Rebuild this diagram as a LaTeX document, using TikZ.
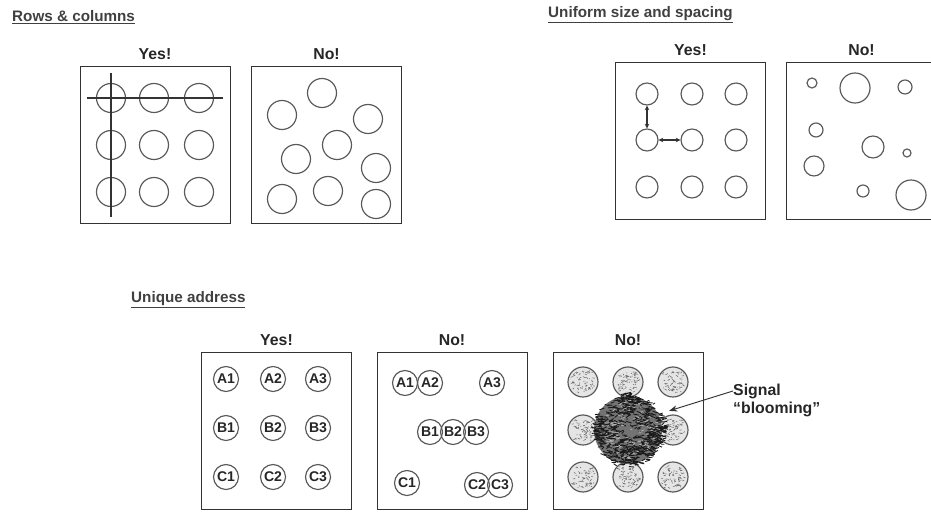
\documentclass[tikz,border=0pt]{standalone}
\usepackage{fontspec}
\setmainfont{Liberation Sans}
\usetikzlibrary{positioning, arrows.meta, calc}

\begin{document}
\begin{tikzpicture}[
    x=0.03cm, y=-0.03cm,
    panel/.style={draw=black!80, line width=0.8pt, rectangle, minimum width=150*0.03cm, minimum height=157*0.03cm, inner sep=0pt},
    head/.style={font=\fontsize{13.5}{15}\selectfont\bfseries, text=black!85, inner sep=1pt},
    title/.style={font=\fontsize{13}{15}\selectfont\bfseries, text=black!75, anchor=west, inner sep=0pt},
    spot/.style={draw=black!65, line width=1pt, circle, minimum size=#1*0.03cm, inner sep=0pt},
    cell/.style={spot=25, font=\fontsize{12}{14}\selectfont\bfseries, text=black!85},
    speck/.style={spot=30, fill=black!10},
    arrow/.style={-{Stealth[length=2.5mm]}, line width=0.8pt, black!80},
    tinyarrow/.style={{Stealth[length=1.4mm, width=1.4mm]}-{Stealth[length=1.4mm, width=1.4mm]}, line width=1pt, black!80},
]
\useasboundingbox (0,0) rectangle (931,515);

% Rows & columns
\node[title] (trc) at (12,17) {\underline{Rows \& columns}};
\node[panel] (rcyes) at (155,145) {};
\node[head, above=4pt of rcyes] (hrcyes) {Yes!};
\node[panel] (rcno) at (326.5,145) {};
\node[head, above=4pt of rcno] (hrcno) {No!};

\foreach \r/\y in {1/98,2/145,3/192}
  \foreach \c/\x in {1/111,2/154,3/199}
    \node[spot=29] (rc\r\c) at (\x,\y) {};
\draw[line width=0.9pt, black!80] ($(rc11.west)+(-9,0)$) -- ($(rc13.east)+(9,0)$);
\draw[line width=0.9pt, black!80] ($(rc11.north)+(0,-10)$) -- ($(rc31.south)+(0,10)$);

\node[spot=29] (rn1) at (322,93) {};
\node[spot=29] (rn2) at (282,115) {};
\node[spot=29] (rn3) at (368,119) {};
\node[spot=29] (rn4) at (337,145) {};
\node[spot=29] (rn5) at (296,159) {};
\node[spot=29] (rn6) at (376,168) {};
\node[spot=29] (rn7) at (282,199) {};
\node[spot=29] (rn8) at (328,191) {};
\node[spot=29] (rn9) at (376,204) {};

% Uniform size and spacing
\node[title] (tus) at (548,15) {\underline{Uniform size and spacing}};
\node[panel] (usyes) at (690.5,141) {};
\node[head, above=4pt of usyes] (husyes) {Yes!};
\node[panel] (usno) at (861.5,141) {};
\node[head, above=4pt of usno] (husno) {No!};

\foreach \r/\y in {1/94,2/140,3/187}
  \foreach \c/\x in {1/647,2/692,3/736}
    \node[spot=22] (us\r\c) at (\x,\y) {};
\draw[tinyarrow] (us11) -- (us21);
\draw[tinyarrow] (us21) -- (us22);

\node[spot=10] (un1) at (812,83) {};
\node[spot=30] (un2) at (855,88) {};
\node[spot=14] (un3) at (905,87) {};
\node[spot=14] (un4) at (816,130) {};
\node[spot=22] (un5) at (873,147) {};
\node[spot=8]  (un6) at (907,153) {};
\node[spot=20] (un7) at (814,166) {};
\node[spot=12] (un8) at (863,191) {};
\node[spot=30] (un9) at (911,195) {};

% Unique address
\node[title] (tua) at (131,300) {\underline{Unique address}};
\node[panel] (uayes) at (276.5,430.5) {};
\node[head, above=4pt of uayes] (huayes) {Yes!};
\node[panel] (uano) at (452,430.5) {};
\node[head, above=4pt of uano] (huano) {No!};
\node[panel] (uabl) at (628,430.5) {};
\node[head, above=4pt of uabl] (huabl) {No!};

\foreach \r/\y/\L in {1/379/A,2/428/B,3/477/C}
  \foreach \c/\x in {1/226,2/273,3/318}
    \node[cell] (ua\L\c) at (\x,\y) {\L\c};

\node[cell] (nA1) at (405,383) {A1};
\node[cell] (nA2) at (430,383) {A2};
\node[cell] (nA3) at (492,383) {A3};
\node[cell] (nB1) at (430,432) {B1};
\node[cell] (nB2) at (453,432) {B2};
\node[cell] (nB3) at (476,432) {B3};
\node[cell] (nC1) at (407,483) {C1};
\node[cell] (nC2) at (477,485) {C2};
\node[cell] (nC3) at (500,485) {C3};

% Blooming spots
\foreach \r/\y in {1/382,2/430,3/477}
  \foreach \c/\x in {1/583,2/628,3/673}
    \node[speck] (s\r\c) at (\x,\y) {};
\pgfmathsetseed{11}
\foreach \n in {s11,s12,s13,s21,s23,s31,s32,s33}
  \foreach \k in {1,...,70}
    \draw[black!60, line width=0.45pt] ($(\n)+(rand*10.5,rand*10.5)$) -- ++(rand*2.5,rand*1.5);

\node[circle, minimum size=90*0.03cm, inner sep=0pt] (bloom) at (628,430) {};
\fill[black!55] (bloom.center) circle [radius=34];
\foreach \k in {1,...,650}
  \draw[black!90, line width=0.75pt] ($(bloom)+({rand*180}:{37*sqrt(rnd)})$) -- ++(4+rand*2,rand*2.5);
\foreach \k in {1,...,110}
  \draw[white!75!black, line width=0.5pt] ($(bloom)+({rand*180}:{30*sqrt(rnd)})$) -- ++(3+rand*2,rand*1.5);

\node[head, anchor=west, inner sep=0pt] (sig) at (733,391) {Signal};
\node[head, anchor=west, inner sep=0pt] (sigb) at (733,409) {``blooming''};
\draw[arrow] (sig.west) -- (bloom.25);

\end{tikzpicture}
\end{document}
